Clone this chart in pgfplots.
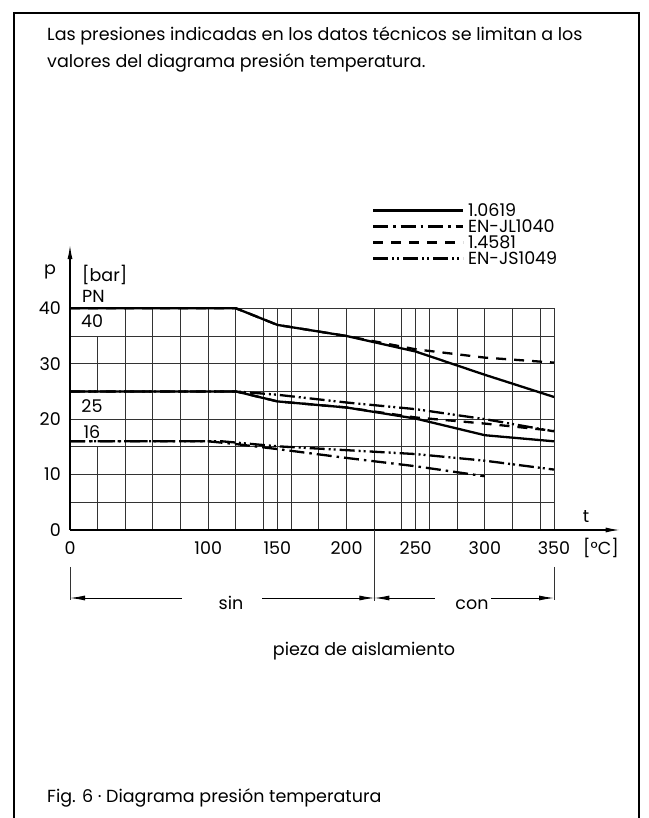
\documentclass[border=0pt]{standalone}
\usepackage{fontspec}
\setmainfont{Poppins}
\usepackage{pgfplots}
\pgfplotsset{compat=1.18}
\usetikzlibrary{arrows.meta}
\newcommand{\fs}{\fontsize{17.5}{20}\selectfont}
\begin{document}
\begin{tikzpicture}[x=1pt,y=1pt,font=\fs]
\useasboundingbox (0,0) rectangle (648,818);
\draw[line width=2.5pt] (14,-3) -- (14,805) -- (639,805) -- (639,-3);
\node[anchor=base west,inner sep=0pt] at (47,777) {Las presiones indicadas en los datos técnicos se limitan a los};
\node[anchor=base west,inner sep=0pt] at (47,750) {valores del diagrama presión temperatura.};
\begin{axis}[
  at={(70pt,288pt)}, anchor=south west,
  scale only axis, width=484pt, height=221.7pt,
  xmin=0, xmax=350, ymin=0, ymax=40,
  clip=false,
  axis line style={draw=none},
  major tick length=0pt,
  xtick={0,100,150,200,250,300,350},
  extra x ticks={40,60,80,120,140,160,180,220,240,260,280,320,340},
  extra x tick labels={},
  ytick={0,10,20,30,40},
  extra y ticks={5,15,25,35},
  extra y tick labels={},
  grid=major,
  major grid style={line width=1pt, black!80},
  extra tick style={grid=major, major tick length=0pt},
  xticklabel style={anchor=center, yshift=-18pt},
  yticklabel style={anchor=east, inner sep=0pt, xshift=-9pt},
  /pgf/number format/assume math mode=true,
  ticklabel style={font=\fs},
  legend cell align=left,
  legend image code/.code={\draw[#1] (0pt,1pt) -- (90pt,1pt);},
  legend style={at={(axis cs:218.3,58.7)}, anchor=north west, draw=none, fill=none,
    inner sep=0pt, outer sep=0pt, row sep=2pt, column sep=4pt, font=\fs,
    nodes={inner sep=0pt, text height=12pt, text depth=2pt}},
  every axis plot/.append style={line width=2.3pt, black},
]
% partial grid line at x=20
\draw[line width=1pt, black!80] (axis cs:20,0) -- (axis cs:20,15);
\draw[line width=1pt, black!80] (axis cs:20,25) -- (axis cs:20,35);
% axes
\draw[line width=1.2pt, -{Latex[length=14pt,width=5pt]}] (axis cs:0,0) -- (axis cs:0,51.4);
\draw[line width=1.2pt, -{Latex[length=14pt,width=5pt]}] (axis cs:0,0) -- (axis cs:397.5,0);

% 1.0619 solid
\addplot[solid] coordinates {(0,40) (120,40) (150,37) (200,35) (250,32.2) (300,28) (350,24)};
\addlegendentry{1.0619}
% EN-JL1040 dash-dot (PN16)
\addplot[dash pattern=on 15pt off 5pt on 2.5pt off 5pt] coordinates {(0,16) (100,16) (120,15.5) (150,14.6) (200,13.0) (250,11.5) (300,9.7)};
\addlegendentry{EN-JL1040}
% 1.4581 dashed (PN40)
\addplot[dash pattern=on 10pt off 8pt] coordinates {(0,40) (120,40) (150,37) (200,35) (250,32.6) (300,31.1) (350,30.2)};
\addlegendentry{1.4581}
% EN-JS1049 dash-dot-dot (PN25)
\addplot[dash pattern=on 15pt off 4pt on 2pt off 3pt on 2pt off 4pt] coordinates {(0,25) (120,25) (150,24.4) (200,23.0) (250,21.8) (300,20.0) (350,17.8)};
\addlegendentry{EN-JS1049}
% 1.0619 PN25
\addplot[solid, forget plot] coordinates {(0,25) (120,25) (150,23.2) (200,22.1) (250,20.1) (300,17.1) (350,16)};
% 1.4581 PN25
\addplot[dash pattern=on 10pt off 8pt, forget plot] coordinates {(0,25) (120,25) (150,23.2) (200,22.1) (250,20.3) (300,19.2) (350,17.9)};
% EN-JS1049 PN16
\addplot[dash pattern=on 15pt off 4pt on 2pt off 3pt on 2pt off 4pt, forget plot] coordinates {(0,16) (110,16) (150,15.1) (200,14.4) (250,13.7) (300,12.5) (350,10.9)};
\end{axis}
% labels around axis
\node at (50,546) {p};
\node[anchor=west,inner sep=0pt] at (82,543) {[bar]};
\node[anchor=west,inner sep=0pt] at (82,522) {PN};
\node at (92,497) {40};
\node at (92,412) {25};
\node at (92,386) {16};
\node at (586,301) {t};
\node[anchor=west,inner sep=0pt] at (583,270) {[°C]};
% dimension lines
\draw[line width=0.9pt, black!80] (70,251) -- (70,218);
\draw[line width=0.9pt, black!80] (554,251) -- (554,218);
\draw[line width=1pt, black!80] (374.4,288) -- (374.4,217);
\draw[line width=0.9pt, {Latex[length=15pt,width=5pt]}-] (70,220) -- (182,220);
\draw[line width=0.9pt, -{Latex[length=15pt,width=5pt]}] (262,220) -- (374.4,220);
\draw[line width=0.9pt, {Latex[length=15pt,width=5pt]}-] (374.4,220) -- (435,220);
\draw[line width=0.9pt, -{Latex[length=15pt,width=5pt]}] (491,220) -- (554,220);
\node[anchor=base,inner sep=0pt] at (231,208) {sin};
\node[anchor=base,inner sep=0pt] at (472,208) {con};
\node[anchor=base,inner sep=0pt] at (364,162) {pieza de aislamiento};
\node[anchor=base west,inner sep=0pt] at (47,16) {Fig. 6 · Diagrama presión temperatura};
\end{tikzpicture}
\end{document}
